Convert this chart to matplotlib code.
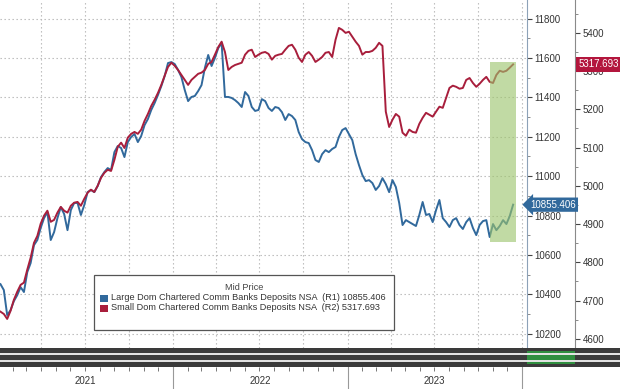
import numpy as np
import pandas as pd
import matplotlib
matplotlib.use("Agg")
import matplotlib.pyplot as plt
import matplotlib.dates as mdates
import matplotlib.transforms as mtransforms
from matplotlib.patches import Rectangle
from matplotlib.lines import Line2D
from matplotlib.ticker import MultipleLocator


# =========================
# 1. Data (weekly)
# =========================
first_week = "2021-01-06"

large_banks = [
    10452, 10422, 10295, 10320, 10366, 10396, 10437, 10412, 10513, 10559,
    10650, 10676, 10737, 10787, 10818, 10676, 10716, 10787, 10843, 10808,
    10726, 10828, 10864, 10864, 10803, 10853, 10919, 10930, 10919, 10950,
    10995, 11021, 11041, 11031, 11122, 11153, 11143, 11097, 11173, 11199,
    11214, 11173, 11204, 11259, 11290, 11336, 11371, 11412, 11457, 11508,
    11574, 11579, 11569, 11539, 11503, 11437, 11381, 11402, 11407, 11432,
    11462, 11549, 11615, 11559, 11600, 11650, 11676, 11402, 11402, 11397,
    11386, 11371, 11351, 11427, 11407, 11351, 11331, 11336, 11391, 11381,
    11346, 11331, 11351, 11346, 11325, 11285, 11315, 11305, 11285, 11224,
    11188, 11173, 11168, 11132, 11082, 11072, 11112, 11132, 11122, 11138,
    11148, 11199, 11234, 11244, 11214, 11183, 11112, 11056, 11006, 10975,
    10980, 10965, 10930, 10950, 10990, 10960, 10919, 10980, 10945, 10864,
    10752, 10777, 10767, 10757, 10747, 10803, 10869, 10803, 10808, 10767,
    10828, 10879, 10787, 10767, 10742, 10777, 10787, 10752, 10732, 10767,
    10787, 10737, 10701, 10752, 10772, 10777, 10691, 10757, 10726, 10747,
    10777, 10757, 10798, 10855.406,
]

small_banks = [
    4671, 4665, 4652, 4673, 4702, 4723, 4741, 4747, 4781, 4812,
    4851, 4869, 4901, 4922, 4935, 4906, 4911, 4930, 4945, 4935,
    4930, 4948, 4956, 4958, 4948, 4966, 4982, 4990, 4984, 5000,
    5021, 5034, 5042, 5039, 5068, 5102, 5113, 5099, 5126, 5136,
    5141, 5136, 5147, 5170, 5188, 5209, 5225, 5243, 5264, 5288,
    5311, 5322, 5314, 5303, 5290, 5277, 5264, 5277, 5285, 5293,
    5296, 5303, 5319, 5324, 5343, 5363, 5377, 5350, 5303, 5311,
    5316, 5319, 5322, 5343, 5353, 5356, 5337, 5343, 5348, 5350,
    5345, 5330, 5340, 5343, 5345, 5356, 5366, 5369, 5356, 5335,
    5324, 5343, 5350, 5340, 5324, 5330, 5337, 5348, 5350, 5337,
    5382, 5413, 5408, 5400, 5403, 5390, 5377, 5366, 5343, 5350,
    5350, 5353, 5361, 5374, 5366, 5194, 5154, 5173, 5188, 5181,
    5139, 5131, 5147, 5141, 5139, 5162, 5178, 5191, 5186, 5181,
    5194, 5207, 5204, 5230, 5256, 5262, 5259, 5254, 5256, 5277,
    5282, 5269, 5259, 5267, 5277, 5285, 5272, 5269, 5290, 5301,
    5298, 5301, 5309, 5317.693,
]

large_name = "Large Dom Chartered Comm Banks Deposits NSA  (R1) 10855.406"
small_name = "Small Dom Chartered Comm Banks Deposits NSA  (R2) 5317.693"
legend_title = "Mid Price"
year_labels = ["2021", "2022", "2023"]

# highlighted window (dates) and its height on the R1 scale
shade_dates = ["2023-10-25", "2023-12-18"]
shade_r1 = [10665, 11579]

dates = pd.date_range(first_week, periods=len(large_banks), freq="7D")

BLUE = "#31699c"
RED = "#a81e3c"
TXT = "#333333"
FONT = ["Liberation Sans", "DejaVu Sans"]
plt.rcParams["font.family"] = FONT

W, H = 620, 389


def fx(px):
    return px / W


def fy(py):
    return 1 - py / H


x0 = mdates.date2num(pd.Timestamp("2021-01-05"))
x1 = mdates.date2num(pd.Timestamp("2024-01-11"))


# =========================
# 2. Main panel, R1 (large banks)
# =========================
fig = plt.figure(figsize=(6.2, 3.89), dpi=100)

ax = fig.add_axes([0, fy(348), fx(527), 348 / H])
ax.plot(dates, large_banks, color=BLUE, lw=1.4, zorder=3)

# R2 axis (small banks) -- twinx resets ax ticks to the left, so build it first
ax2 = ax.twinx()
ax2.plot(dates, small_banks, color=RED, lw=1.4, zorder=3)

ax.set_ylim(10128, 11894)
ax.set_yticks(np.arange(10200, 11801, 200))
ax.yaxis.set_minor_locator(MultipleLocator(100))
ax.yaxis.tick_right()
ax.yaxis.set_label_position("right")
ax.tick_params(axis="y", which="major", length=3.5, width=0.8, color="#444444",
               labelsize=7, labelcolor=TXT, pad=2)
ax.tick_params(axis="y", which="minor", length=2, width=0.6, color="#777777")
ax.xaxis.set_major_locator(mdates.MonthLocator(bymonth=[1, 4, 7, 10]))
ax.tick_params(axis="x", length=0, labelbottom=False)
ax.grid(True, linestyle=(0, (1.2, 2.4)), color="#b5b5b5", lw=0.8)
for s in ["left", "top", "bottom"]:
    ax.spines[s].set_visible(False)
ax.spines["right"].set_visible(True)
ax.spines["right"].set_color("#8da2b8")
ax.spines["right"].set_linewidth(0.8)

ax2.set_ylim(4576, 5486)
ax2.set_yticks(np.arange(4600, 5401, 100))
ax2.yaxis.set_minor_locator(MultipleLocator(50))
ax2.spines["right"].set_position(("outward", 48 * 72 / 100))
ax2.spines["right"].set_color("#8a8a8a")
ax2.spines["right"].set_linewidth(0.8)
for s in ["left", "top", "bottom"]:
    ax2.spines[s].set_visible(False)
ax2.tick_params(axis="y", which="major", length=3.5, width=0.8, color="#444444",
                labelsize=7, labelcolor=TXT, pad=2)
ax2.tick_params(axis="y", which="minor", length=2, width=0.6, color="#777777")

# green highlight over the latest weeks
s0, s1 = [mdates.date2num(pd.Timestamp(d)) for d in shade_dates]
shade = Rectangle((s0, shade_r1[0]), s1 - s0, shade_r1[1] - shade_r1[0],
                  transform=ax.transData, facecolor="#9cc46c", alpha=0.62,
                  edgecolor="none", zorder=5)
ax2.add_patch(shade)

ax.set_xlim(x0, x1)
ax2.set_xlim(x0, x1)

# last-value tags
tr1 = mtransforms.blended_transform_factory(fig.transFigure, ax.transData)
tr2 = mtransforms.blended_transform_factory(fig.transFigure, ax2.transData)
fig.text(fx(553), large_banks[-1], f"{large_banks[-1]:.3f}", transform=tr1,
         ha="center", va="center", fontsize=7, color="white",
         bbox=dict(boxstyle="larrow,pad=0.22", fc=BLUE, ec="none"), zorder=10)
fig.text(fx(599), small_banks[-1], f"{small_banks[-1]:.3f}", transform=tr2,
         ha="center", va="center", fontsize=7, color="white",
         bbox=dict(boxstyle="square,pad=0.25", fc="#b3163d", ec="none"), zorder=10)


# =========================
# 4. Legend box (drawn by hand)
# =========================
fig.patches.append(Rectangle((fx(94), fy(330)), fx(300), 55 / H,
                             transform=fig.transFigure, fc="white",
                             ec="#555555", lw=0.9, zorder=8))
fig.text(fx(244), fy(288), legend_title, ha="center", va="center",
         fontsize=6.6, color="#444444", zorder=9)
for row_y, col, name in [(298, BLUE, large_name), (308, RED, small_name)]:
    fig.patches.append(Rectangle((fx(100), fy(row_y + 3.5)), fx(8), 7 / H,
                                 transform=fig.transFigure, fc=col,
                                 ec="none", zorder=9))
    fig.text(fx(111), fy(row_y), name, ha="left", va="center",
             fontsize=6.6, color=TXT, zorder=9)


# =========================
# 5. Bottom band and year axis
# =========================
fig.patches.append(Rectangle((0, fy(367)), 1, 19 / H, transform=fig.transFigure,
                             fc="#3a3a3a", ec="none"))
for yy in [353.5, 360.5]:
    fig.lines.append(Line2D([0, 1], [fy(yy), fy(yy)], transform=fig.transFigure,
                            color="#e6e6e6", lw=1.4))
fig.patches.append(Rectangle((fx(527), fy(364)), fx(48), 13 / H,
                             transform=fig.transFigure, fc="#2f8f3f", ec="none"))

axb = fig.add_axes([0, 0, fx(527), 22 / H])
axb.set_xlim(x0, x1)
axb.set_ylim(0, 1)
for s in axb.spines.values():
    s.set_visible(False)
axb.set_yticks([])
axb.xaxis.tick_top()
axb.xaxis.set_major_locator(mdates.MonthLocator())
axb.tick_params(axis="x", which="major", direction="in", length=3, width=0.7,
                color="#777777", labeltop=False)
for yr, lab in zip([2021, 2022, 2023], year_labels):
    axb.text(mdates.date2num(pd.Timestamp(f"{yr}-07-02")), 0.38, lab,
             ha="center", va="center", fontsize=7, color=TXT)
for yr in [2022, 2023, 2024]:
    axb.axvline(mdates.date2num(pd.Timestamp(f"{yr}-01-01")), color="#999999", lw=0.8)

plt.savefig("out.png", dpi=100)
plt.close()
